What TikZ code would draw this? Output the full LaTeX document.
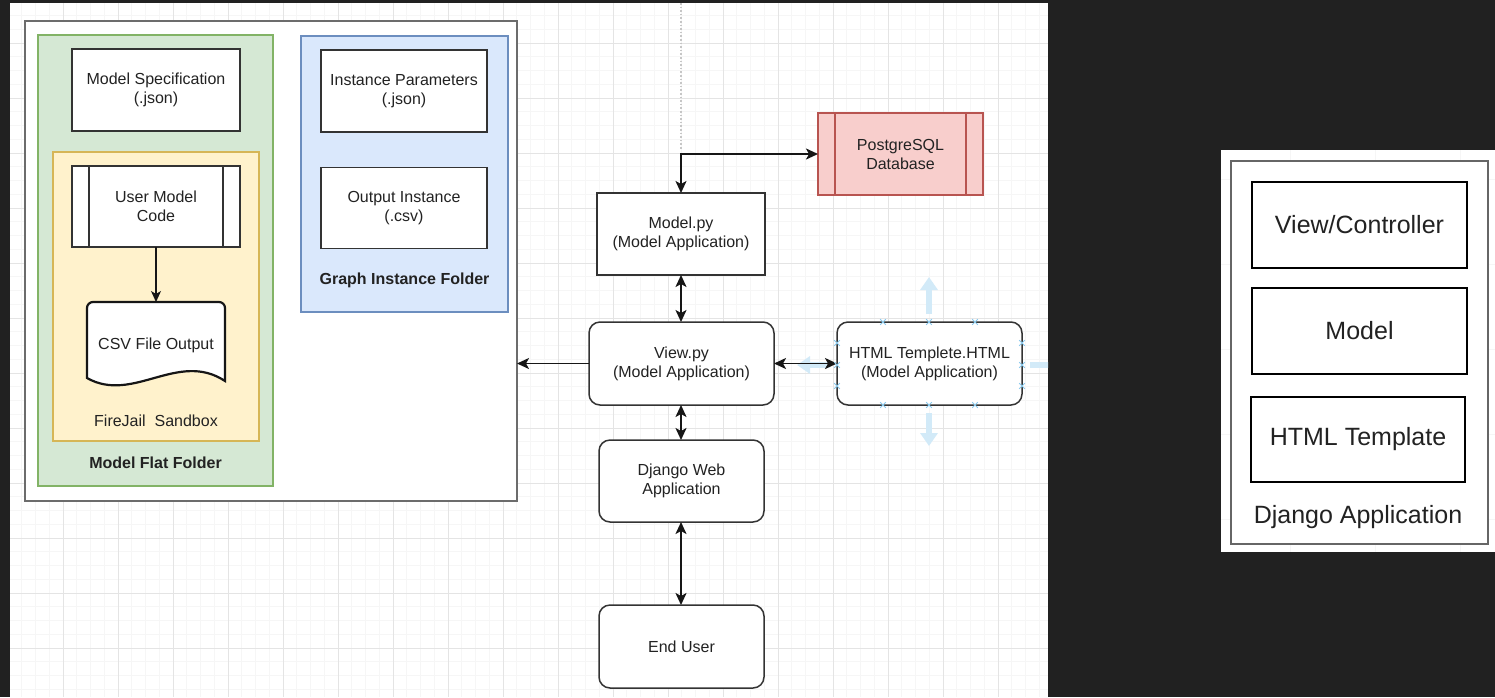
\documentclass[tikz,border=0pt]{standalone}
\usepackage{fontspec}
\setmainfont{Liberation Sans}
\usetikzlibrary{arrows.meta}
\definecolor{bgdark}{HTML}{212121}
\definecolor{gridmaj}{HTML}{E4E4E4}
\definecolor{gridmin}{HTML}{F6F6F6}
\definecolor{greenf}{HTML}{D5E8D4}
\definecolor{greend}{HTML}{82B366}
\definecolor{yellowf}{HTML}{FFF2CC}
\definecolor{yellowd}{HTML}{D6B656}
\definecolor{bluef}{HTML}{DAE8FC}
\definecolor{blued}{HTML}{6C8EBF}
\definecolor{pinkf}{HTML}{F8CECC}
\definecolor{pinkd}{HTML}{B85450}
\definecolor{boxc}{HTML}{333333}
\definecolor{txtc}{HTML}{222222}
\definecolor{linec}{HTML}{161616}
\definecolor{selc}{HTML}{D2EAF8}
\definecolor{selm}{HTML}{8CCBEE}
\begin{document}
\begin{tikzpicture}[x=1pt,y=-1pt,
  every node/.style={text=txtc, inner sep=0pt, outer sep=0pt},
  fs/.style={font=\fontsize{16}{19}\selectfont},
  fsbig/.style={font=\fontsize{25}{30}\selectfont},
  boxline/.style={draw=boxc, line width=1.5pt},
  plainbox/.style={boxline, fill=white, align=center, fs},
  roundbox/.style={plainbox, rounded corners=11pt},
  container/.style={line width=1.2pt},
  conn/.style={draw=linec, line width=1.8pt},
  twoway/.style={conn, arrows={Stealth[length=12pt,width=11pt,inset=3pt]-Stealth[length=12pt,width=11pt,inset=3pt]}},
  oneway/.style={conn, arrows={-Stealth[length=12pt,width=11pt,inset=3pt]}},
  thinway/.style={draw=linec, line width=1.2pt, arrows={-Stealth[length=11pt,width=10pt,inset=3pt]}},
  selarrow/.style={draw=selc, line width=6pt, arrows={-Triangle[length=13pt,width=17pt]}},
  selmark/.style={draw=selm, line width=1pt},
  rbig/.style={draw=black, line width=1.8pt, fill=white, fsbig, align=center}
]
\useasboundingbox (0,0) rectangle (1495,697);
\fill[bgdark] (0,0) rectangle (1495,697);

% ---------- left canvas with grid ----------
\fill[white] (10,3) rectangle (1048,697);
\begin{scope}
  \clip (10,3) rectangle (1048,697);
  \foreach \i in {0,...,76} \draw[gridmin, line width=0.6pt] ({8+13.75*\i},0) -- ({8+13.75*\i},697);
  \foreach \i in {0,...,52} \draw[gridmin, line width=0.6pt] (0,{-12+13.75*\i}) -- (1048,{-12+13.75*\i});
  \foreach \i in {0,...,19} \draw[gridmaj, line width=0.8pt] ({8+55*\i},0) -- ({8+55*\i},697);
  \foreach \i in {0,...,13} \draw[gridmaj, line width=0.8pt] (0,{-12+55*\i}) -- (1048,{-12+55*\i});
  \draw[gray!45, line width=1.6pt, dotted] (681,3) -- (681,150);
  % selection arrows (editor hover)
  \draw[selarrow] (929,314) -- (929,277);
  \draw[selarrow] (929,413) -- (929,446);
  \draw[selarrow] (830,365) -- (797,365);
  \draw[selarrow] (1030,365) -- (1063,365);
\end{scope}

% ---------- outer folder box ----------
\node[draw=gray!85!black, line width=2pt, fill=white, minimum width=492pt, minimum height=480pt] (outer) at (271,261) {};

% Model Flat Folder
\node[container, draw=greend, fill=greenf, minimum width=235pt, minimum height=451pt] (green) at (155.5,260.5) {};
\node[font=\fontsize{16}{19}\selectfont\bfseries] (greenlbl) at (155.5,463) {Model Flat Folder};
\node[plainbox, minimum width=168pt, minimum height=82pt] (spec) at (156,90) {Model Specification\\(.json)};

% FireJail sandbox
\node[container, draw=yellowd, fill=yellowf, minimum width=206pt, minimum height=289pt] (yellow) at (156,296.5) {};
\node[fs] (yellowlbl) at (156,421) {FireJail\ \ Sandbox};
\node[plainbox, minimum width=168pt, minimum height=81pt] (umc) at (156,206.5) {User Model\\Code};
\draw[boxline] ([xshift=17pt]umc.north west) -- ([xshift=17pt]umc.south west);
\draw[boxline] ([xshift=-17pt]umc.north east) -- ([xshift=-17pt]umc.south east);

% CSV document shape
\coordinate (csvtop) at (156,302);
\draw[draw=linec, line width=2.2pt, fill=white] (87,378) [rounded corners=6pt] -- (87,302) -- (225,302) [sharp corners] -- (225,381)
  .. controls (178,350) and (133,404) .. (87,378) -- cycle;
\node[fs] (csvtxt) at (156,345) {CSV File Output};
\draw[thinway] (umc.south) -- (csvtop);

% Graph Instance Folder
\node[container, draw=blued, fill=bluef, minimum width=207pt, minimum height=276pt] (blue) at (404.5,174) {};
\node[font=\fontsize{16}{19}\selectfont\bfseries] (bluelbl) at (404.5,280) {Graph Instance Folder};
\node[plainbox, minimum width=166pt, minimum height=82pt] (ip) at (404,91) {Instance Parameters\\(.json)};
\node[plainbox, minimum width=166pt, minimum height=81pt] (oi) at (404,208) {Output Instance\\(.csv)};

% ---------- application flow ----------
\node[plainbox, draw=pinkd, fill=pinkf, minimum width=165pt, minimum height=82pt] (pg) at (900.5,154) {PostgreSQL\\Database};
\draw[draw=pinkd, line width=1.5pt] ([xshift=17pt]pg.north west) -- ([xshift=17pt]pg.south west);
\draw[draw=pinkd, line width=1.5pt] ([xshift=-17pt]pg.north east) -- ([xshift=-17pt]pg.south east);

\node[plainbox, minimum width=168pt, minimum height=82pt] (modelpy) at (681,234) {Model.py\\(Model Application)};
\node[roundbox, minimum width=185pt, minimum height=83pt] (view) at (681.5,363.5) {View.py\\(Model Application)};
\node[roundbox, minimum width=185pt, minimum height=83pt] (html) at (929.5,363.5) {HTML Templete.HTML\\(Model Application)};
\node[roundbox, minimum width=165pt, minimum height=82pt] (django) at (681.5,481) {Django Web\\Application};
\node[roundbox, minimum width=165pt, minimum height=83pt] (enduser) at (681.5,646.5) {End User};

\draw[twoway] (modelpy.north) |- (pg.west);
\draw[twoway] (modelpy.south) -- (modelpy.south |- view.north);
\draw[oneway] (view.west) -- (view.west -| outer.east);
\draw[twoway] (view.east) -- (html.west);
\draw[twoway] (view.south -| modelpy.south) -- (django.north -| modelpy.south);
\draw[twoway] (django.south -| modelpy.south) -- (enduser.north -| modelpy.south);

% selection handles on HTML box
\foreach \px/\py in {883/322,929/322,975/322,883/405,929/405,975/405,837/343,837/365,837/386,1022/343,1022/365,1022/386}
  \draw[selmark] (\px,\py) +(-2.8,-2.8) -- +(2.8,2.8) +(-2.8,2.8) -- +(2.8,-2.8);

% ---------- right panel: Django Application ----------
\fill[white] (1221,150) rectangle (1495,552);
\begin{scope}
  \clip (1221,150) rectangle (1495,552);
  \foreach \i in {0,...,4} \draw[gridmin, line width=0.8pt] ({1205+85*\i},150) -- ({1205+85*\i},552);
  \foreach \i in {0,...,5} \draw[gridmin, line width=0.8pt] (1221,{94+85*\i}) -- (1495,{94+85*\i});
\end{scope}
\node[draw=gray!80!black, line width=2.6pt, fill=white, minimum width=257pt, minimum height=383pt] (djapp) at (1359.5,352.5) {};
\node[rbig, minimum width=215pt, minimum height=86pt] (vc) at (1359.5,225) {View/Controller};
\node[rbig, minimum width=215pt, minimum height=86pt] (mdl) at (1359.5,331) {Model};
\node[rbig, minimum width=214pt, minimum height=85pt] (ht) at (1358,439.5) {HTML Template};
\node[fsbig] (djlbl) at (1358,517) {Django Application};
\end{tikzpicture}
\end{document}
